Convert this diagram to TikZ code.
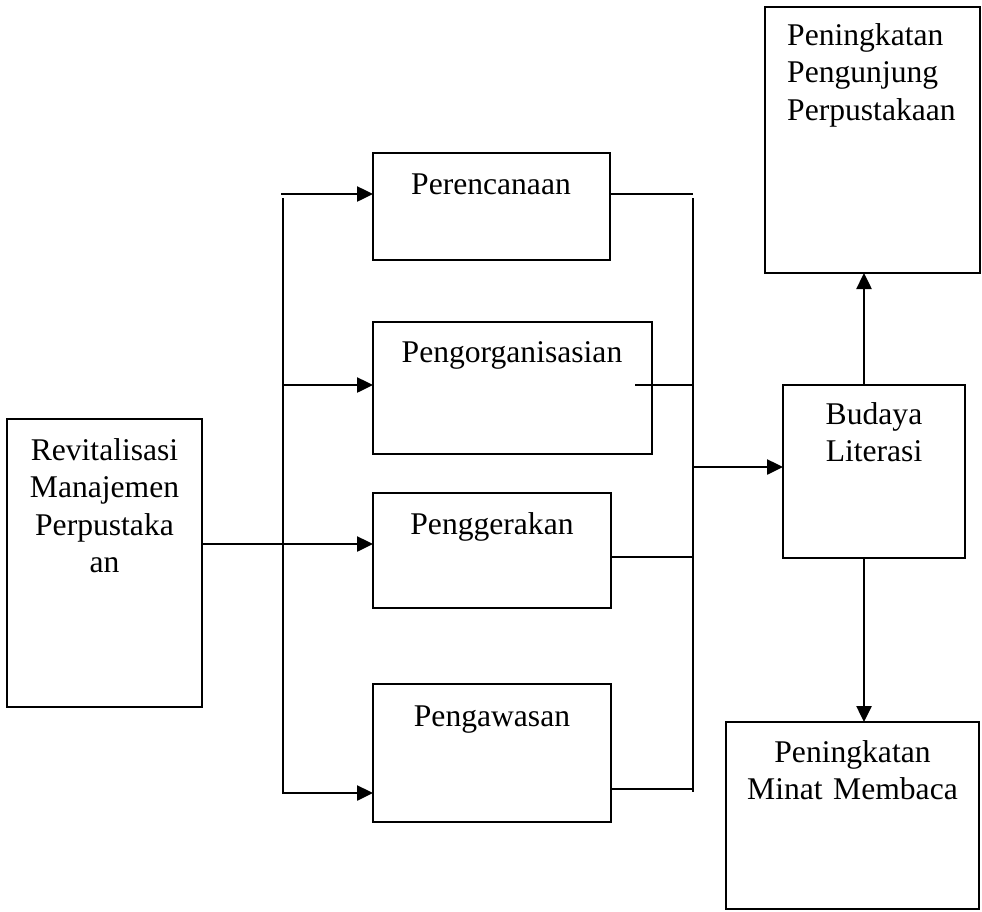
\documentclass[tikz,border=0pt]{standalone}
\usepackage{fontspec}
\setmainfont{Liberation Serif}
\usetikzlibrary{arrows.meta,calc}
\begin{document}
\begin{tikzpicture}[x=1pt,y=-1pt,
  box/.style={draw, line width=1.8pt, inner sep=0pt, outer sep=0pt, anchor=north west},
  lbl/.style={font=\fontsize{31.6}{37.5}\selectfont, inner sep=0pt, anchor=base},
  bus/.style={line width=1.7pt},
  thinl/.style={line width=1.3pt},
  arr/.style={line width=2.5pt, -{Triangle[length=16pt,width=15pt]}},
]
\useasboundingbox (0,0) rectangle (982,911);
% boxes
\node[box, minimum width=195pt, minimum height=288pt] (revit) at (7,419) {};
\node[box, minimum width=237pt, minimum height=107pt] (per) at (373,153) {};
\node[box, minimum width=279pt, minimum height=132pt] (org) at (373,322) {};
\node[box, minimum width=238pt, minimum height=115pt] (ger) at (373,493) {};
\node[box, minimum width=238pt, minimum height=138pt] (awas) at (373,684) {};
\node[box, minimum width=215pt, minimum height=266pt] (peng) at (765,7) {};
\node[box, minimum width=182pt, minimum height=173pt] (bud) at (783,385) {};
\node[box, minimum width=253pt, minimum height=187pt] (minat) at (726,722) {};
% labels
\node[lbl, text width=195pt, align=center] (revitT) at (104.5,460) {Revitalisasi\\Manajemen\\Perpustaka\\an};
\node[lbl] (perT) at (491,194) {Perencanaan};
\node[lbl] (orgT) at (512,362) {Pengorganisasian};
\node[lbl] (gerT) at (492,534) {Penggerakan};
\node[lbl] (awasT) at (492,726) {Pengawasan};
\node[lbl, text width=190pt, align=left, anchor=base west] (pengT) at (787,45) {Peningkatan\\Pengunjung\\Perpustakaan};
\node[lbl, text width=182pt, align=center] (budT) at (874,424) {Budaya\\Literasi};
\node[lbl, text width=253pt, align=center] (minatT) at (852.5,762) {Peningkatan\\Minat Membaca};
% left bus
\coordinate (a0) at (283,198);
\coordinate (a1) at (283,194);
\coordinate (a2) at (283,385);
\coordinate (a3) at (283,544);
\coordinate (a4) at (283,793);
\draw[bus] (a0) -- (a4);
\draw[thinl] (revit.east |- a3) -- (a3);
\draw[arr] ($(a1)+(-2,0)$) -- (a1 -| per.west);
\draw[arr] (a2) -- (a2 -| org.west);
\draw[arr] (a3) -- (a3 -| ger.west);
\draw[arr] ($(a4)+(-1,0)$) -- (a4 -| awas.west);
% right bus
\coordinate (b0) at (693,198);
\coordinate (b1) at (693,194);
\coordinate (b2) at (693,385);
\coordinate (b3) at (693,557);
\coordinate (b4) at (693,789);
\coordinate (b5) at (693,467);
\coordinate (o1) at (635,385);
\draw[bus] (b0) -- ($(b4)+(0,3)$);
\draw[thinl] (per.east |- b1) -- (b1);
\draw[thinl] (o1) -- (b2);
\draw[thinl] (ger.east |- b3) -- (b3);
\draw[thinl] (awas.east |- b4) -- (b4);
\draw[arr] (b5) -- (b5 -| bud.west);
% vertical arrows
\coordinate (c1) at (864,385);
\coordinate (c2) at (864,558);
\draw[arr] (c1) -- (c1 |- peng.south);
\draw[arr] (c2) -- (c2 |- minat.north);
\end{tikzpicture}
\end{document}
